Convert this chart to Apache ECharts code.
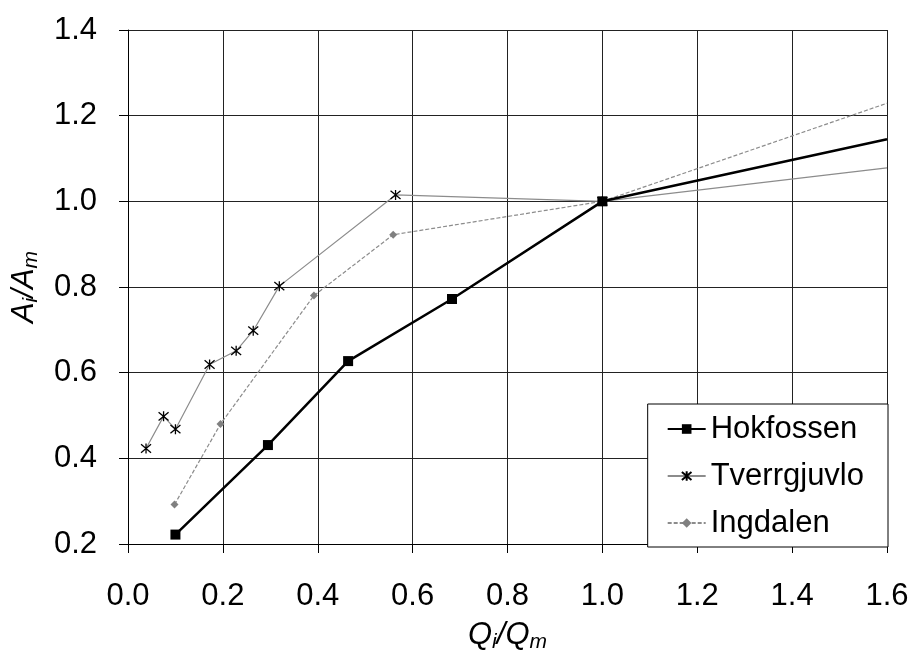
<!DOCTYPE html>
<html>
<head>
<meta charset="utf-8">
<script src="https://cdn.jsdelivr.net/npm/echarts@6/dist/echarts.min.js"></script>
<style>
  html, body { margin: 0; padding: 0; background: #fff; }
  #chart { width: 914px; height: 658px; }
</style>
</head>
<body>
<div id="chart"></div>
<script>
// values, x = Qi/Qm, y = Ai/Am
var hokfossenX = [0.10, 0.295, 0.464, 0.683, 1.0, 1.6]
var hokfossenY = [0.222, 0.431, 0.627, 0.772, 1.0, 1.145]
var tverrX = [0.038, 0.075, 0.10, 0.172, 0.228, 0.264, 0.319, 0.564, 1.0, 1.6]
var tverrY = [0.423, 0.498, 0.468, 0.619, 0.651, 0.698, 0.802, 1.015, 1.0, 1.078]
var ingdalX = [0.098, 0.195, 0.392, 0.559, 1.0, 1.6]
var ingdalY = [0.292, 0.480, 0.780, 0.922, 1.0, 1.229]
var seriesNames = ['Hokfossen', 'Tverrgjuvlo', 'Ingdalen']

var FONT = 'Liberation Sans, Arial, sans-serif'
var star = 'path://M0,0L10,10M10,0L0,10M5,-1L5,11'

// last point sits on the plot edge and carries no marker
function pairs(xs, ys) {
    return xs.map(function(x, i) {
        var p = { value: [x, ys[i]] }
        if (i === xs.length - 1) p.symbol = 'none'
        return p
    })
}

var nameRich = {
    n: { fontFamily: FONT, fontSize: 31, fontStyle: 'italic', color: '#000', lineHeight: 36 },
    s: { fontFamily: FONT, fontSize: 21, fontStyle: 'italic', color: '#000', verticalAlign: 'bottom', lineHeight: 36, padding: [11, 0, 0, 0] }
}

var chart = echarts.init(document.getElementById('chart'))
chart.setOption({
    animation: false,
    grid: { left: 128, right: 27, top: 30, bottom: 108 },
    xAxis: {
        type: 'value', min: 0, max: 1.6, interval: 0.2,
        name: '{n|Q}{s|i}{n|/Q}{s|m}', nameLocation: 'middle', nameGap: 73,
        nameTextStyle: { rich: nameRich },
        axisLine: { lineStyle: { color: '#000', width: 1 } },
        axisTick: { show: true, length: 9, lineStyle: { color: '#000' } },
        axisLabel: { fontFamily: FONT, fontSize: 31, color: '#000', margin: 37, formatter: function(v) { return v.toFixed(1) } },
        splitLine: { show: true, lineStyle: { color: '#222', width: 1 } }
    },
    yAxis: {
        type: 'value', min: 0.2, max: 1.4, interval: 0.2,
        name: '{n|A}{s|i}{n|/A}{s|m}', nameLocation: 'middle', nameGap: 86, nameRotate: 90,
        nameTextStyle: { rich: nameRich },
        axisLine: { show: true, lineStyle: { color: '#000', width: 1 } },
        axisTick: { show: true, length: 9, lineStyle: { color: '#000' } },
        axisLabel: { fontFamily: FONT, fontSize: 31, color: '#000', margin: 31, formatter: function(v) { return v.toFixed(1) } },
        splitLine: { show: true, lineStyle: { color: '#222', width: 1 } }
    },
    legend: {
        orient: 'vertical', right: 26, bottom: 111,
        data: seriesNames,
        backgroundColor: '#fff', borderColor: '#000', borderWidth: 1, borderRadius: 0,
        padding: [8, 24, 7, 19], itemGap: 13, itemWidth: 38, itemHeight: 12,
        textStyle: { fontFamily: FONT, fontSize: 31, color: '#000', lineHeight: 34 }
    },
    series: [
        {
            name: seriesNames[0], type: 'line', data: pairs(hokfossenX, hokfossenY),
            symbol: 'rect', symbolSize: 10, z: 4,
            lineStyle: { color: '#000', width: 2.5 },
            itemStyle: { color: '#000' }
        },
        {
            name: seriesNames[1], type: 'line', data: pairs(tverrX, tverrY),
            symbol: star, symbolSize: 10, z: 3,
            lineStyle: { color: '#8c8c8c', width: 1.2 },
            itemStyle: { color: 'none', borderColor: '#000', borderWidth: 1.3 }
        },
        {
            name: seriesNames[2], type: 'line', data: pairs(ingdalX, ingdalY),
            symbol: 'diamond', symbolSize: 8, z: 2,
            lineStyle: { color: '#8c8c8c', width: 1.2, type: [4, 2] },
            itemStyle: { color: '#808080' }
        }
    ]
})
</script>
</body>
</html>
